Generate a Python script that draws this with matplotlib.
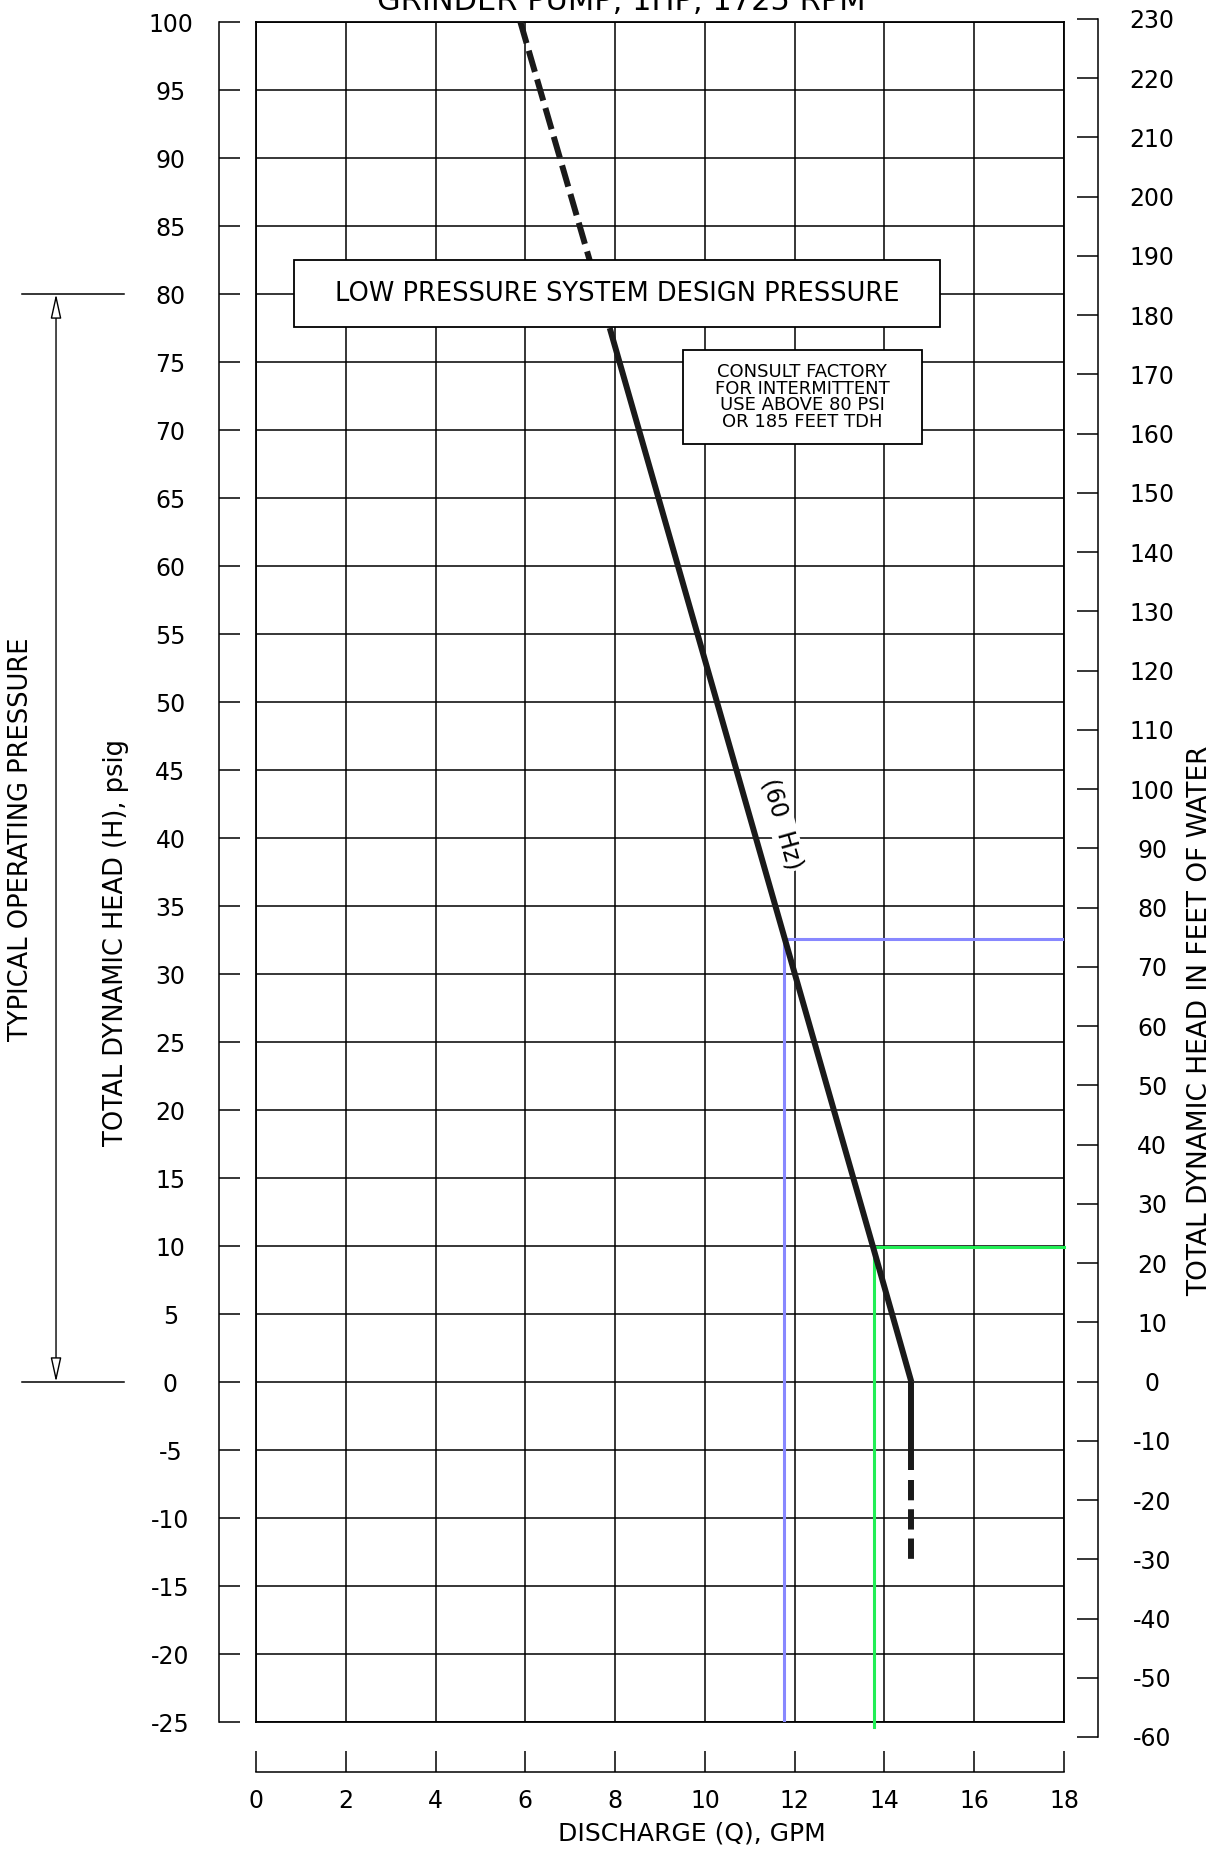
import matplotlib
matplotlib.use('Agg')
import matplotlib.pyplot as plt
from matplotlib.patches import Rectangle
import numpy as np

plt.rcParams['font.family'] = ['DejaVu Sans']
plt.rcParams['axes.unicode_minus'] = False

# --- data ---
q_ticks = list(range(0, 19, 2))
psi_ticks = list(range(-25, 101, 5))
ft_ticks = list(range(-60, 231, 10))

# pump curve (GPM, psig)
curve_q = [7.88, 10.0, 11.77, 13.74, 14.6]
curve_h = [77.5, 53.1, 32.7, 10.0, 0.0]
upper_dash_q = [5.89, 7.44]
upper_dash_h = [100.0, 82.4]
shutoff_q = [14.6, 14.6]
shutoff_h = [0.0, -6.5]
lower_dash_q = [14.6, 14.6]
lower_dash_h = [-7.2, -13.1]

# operating points
blue_q, blue_h = 11.76, 32.6
green_q, green_h = 13.76, 9.95

W, H = 1230, 1850
fig = plt.figure(figsize=(W / 100, H / 100), dpi=100)


def frac_x(px):
    return px / W


def frac_y(px):
    return 1 - px / H


LW_GRID = 1.1
FS = 17

# main grid area
ax = fig.add_axes([frac_x(256), frac_y(1722), frac_x(1064) - frac_x(256), frac_y(22) - frac_y(1722)])
ax.set_xlim(0, 18)
ax.set_ylim(-25, 100)
ax.set_xticks(q_ticks)
ax.set_yticks(psi_ticks)
ax.grid(True, color='black', linewidth=LW_GRID)
ax.tick_params(length=0, labelleft=False, labelbottom=False)
for s in ax.spines.values():
    s.set_linewidth(1.3)
ax.set_axisbelow(True)

# pump curve
lw_curve = 4.3
ax.plot(curve_q, curve_h, color='#1a1a1a', lw=lw_curve, solid_capstyle='butt', zorder=4)
ax.plot(upper_dash_q, upper_dash_h, color='#1a1a1a', lw=lw_curve, dashes=(3.7, 1.3),
        solid_capstyle='butt', zorder=4)
ax.plot(shutoff_q, shutoff_h, color='#1a1a1a', lw=lw_curve, solid_capstyle='butt', zorder=4)
ax.plot(lower_dash_q, lower_dash_h, color='#1a1a1a', lw=lw_curve, dashes=(3.4, 1.5),
        dash_capstyle='butt', zorder=4)

# operating point lines
ax.plot([18, blue_q, blue_q], [blue_h, blue_h, -25], color='#8888ff', lw=2.2, zorder=3)
ax.plot([18, green_q, green_q], [green_h, green_h, -25.4], color='#22ee55', lw=2.2,
        zorder=3, clip_on=False)

# design pressure box
ax.add_patch(Rectangle((0.84, 77.6), 15.24 - 0.84, 82.48 - 77.6, facecolor='white',
                       edgecolor='black', lw=1.3, zorder=5))
ax.text((0.84 + 15.24) / 2, 80, 'LOW PRESSURE SYSTEM DESIGN PRESSURE', ha='center',
        va='center', fontsize=18.5, zorder=6)

ax.add_patch(Rectangle((9.51, 68.97), 14.83 - 9.51, 75.88 - 68.97, facecolor='white',
                       edgecolor='black', lw=1.3, zorder=5))
ax.text((9.51 + 14.83) / 2, (68.97 + 75.88) / 2,
        'CONSULT FACTORY\nFOR INTERMITTENT\nUSE ABOVE 80 PSI\nOR 185 FEET TDH',
        ha='center', va='center', fontsize=13, linespacing=0.92, zorder=6)

# (60 Hz) label along the curve
p0 = ax.transData.transform((curve_q[0], curve_h[0]))
p1 = ax.transData.transform((curve_q[-1], curve_h[-1]))
ang = np.degrees(np.arctan2(p1[1] - p0[1], p1[0] - p0[0]))
ax.text(11.72, 41.0, '(60  Hz)', rotation=ang, rotation_mode='anchor', ha='center',
        va='center', fontsize=FS, zorder=6,
        bbox=dict(facecolor='white', edgecolor='none', pad=1))

# typical operating pressure dimension
ytr = ax.get_yaxis_transform()
for y in (80, 0):
    ax.plot([-0.2896, -0.1634], [y, y], color='black', lw=1.1, transform=ytr, clip_on=False)
ax.annotate('', xy=(-0.2475, 80), xytext=(-0.2475, 0), xycoords=ytr, textcoords=ytr,
            arrowprops=dict(arrowstyle='<|-|>,head_length=1.0,head_width=0.22',
                            mutation_scale=15, fc='white', ec='black', lw=1.0,
                            shrinkA=0, shrinkB=0))

# left scale (psig)
axl = fig.add_axes([frac_x(219), frac_y(1722), 0.01, frac_y(22) - frac_y(1722)])
axl.set_ylim(-25, 100)
axl.set_yticks(psi_ticks)
axl.set_yticklabels([str(v) for v in psi_ticks], ha='center')
axl.set_xticks([])
for k in ('top', 'right', 'bottom'):
    axl.spines[k].set_visible(False)
axl.spines['left'].set_linewidth(1.1)
axl.patch.set_alpha(0)
axl.tick_params(axis='y', direction='in', length=15, width=1.1, pad=35, labelsize=FS)

# right scale (feet of water)
axr = fig.add_axes([frac_x(1070), frac_y(1737), frac_x(1098) - frac_x(1070), frac_y(19) - frac_y(1737)])
axr.set_ylim(-60, 230)
axr.set_yticks(ft_ticks)
axr.set_yticklabels([str(v) for v in ft_ticks], ha='center')
axr.set_xticks([])
for k in ('top', 'left', 'bottom'):
    axr.spines[k].set_visible(False)
axr.spines['right'].set_linewidth(1.1)
axr.patch.set_alpha(0)
axr.yaxis.tick_right()
axr.tick_params(axis='y', direction='in', length=15, width=1.1, pad=39, labelsize=FS)

# bottom scale (GPM)
axb = fig.add_axes([frac_x(256), frac_y(1772), frac_x(1064) - frac_x(256), 0.01])
axb.set_xlim(0, 18)
axb.set_xticks(q_ticks)
axb.set_yticks([])
for k in ('top', 'left', 'right'):
    axb.spines[k].set_visible(False)
axb.spines['bottom'].set_linewidth(1.1)
axb.patch.set_alpha(0)
axb.tick_params(axis='x', direction='in', length=15, width=1.1, pad=12, labelsize=FS)

# labels
fig.text(frac_x(621), frac_y(10), 'GRINDER PUMP, 1HP, 1725 RPM', ha='center', va='baseline',
         fontsize=22)
fig.text(frac_x(692), frac_y(1834), 'DISCHARGE (Q), GPM', ha='center', va='center', fontsize=18)
fig.text(frac_x(116), frac_y(943), 'TOTAL DYNAMIC HEAD (H), psig', ha='center', va='center',
         rotation=90, fontsize=18.5)
fig.text(frac_x(21), frac_y(839), 'TYPICAL OPERATING PRESSURE', ha='center', va='center',
         rotation=90, fontsize=18.5)
fig.text(frac_x(1200), frac_y(1021), 'TOTAL DYNAMIC HEAD IN FEET OF WATER', ha='center',
         va='center', rotation=90, fontsize=19)

fig.savefig('out.png', dpi=100, facecolor='white')
